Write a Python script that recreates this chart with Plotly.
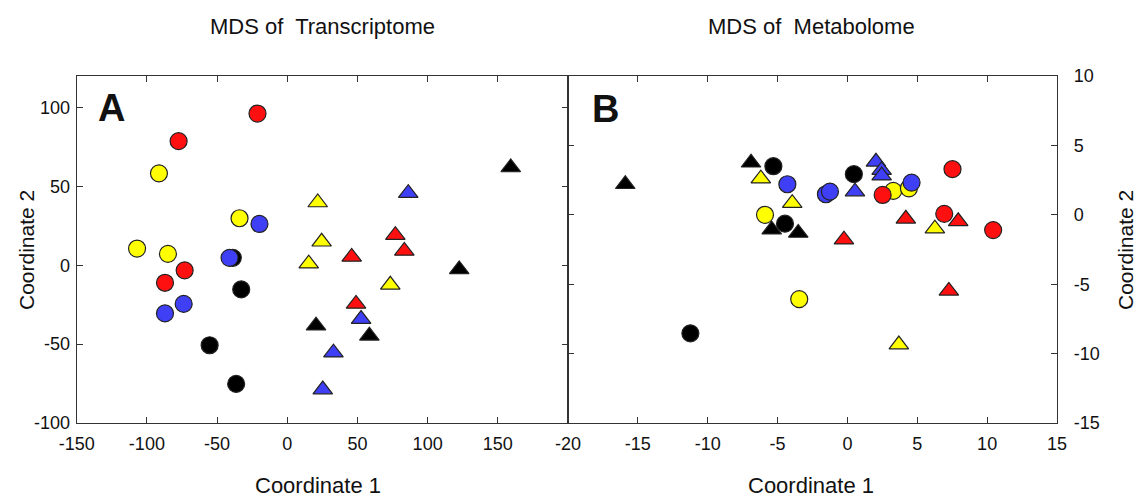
import plotly.graph_objects as go

# ---------------- Panel A: MDS of Transcriptome ----------------
tr_red_circle_x = [-21.2, -77.4, -73.1, -87.1]
tr_red_circle_y = [96.2, 78.7, -3.2, -11.1]
tr_yellow_circle_x = [-91.4, -34.0, -107.0, -85.0]
tr_yellow_circle_y = [58.3, 29.8, 10.6, 7.2]
tr_black_circle_x = [-38.8, -32.8, -55.3, -36.4]
tr_black_circle_y = [4.7, -15.3, -50.7, -75.2]
tr_blue_circle_x = [-19.8, -41.1, -73.8, -87.1]
tr_blue_circle_y = [26.2, 4.7, -24.5, -30.5]
tr_yellow_tri_x = [21.7, 24.5, 15.3, 73.4]
tr_yellow_tri_y = [39.8, 14.9, 1.0, -12.4]
tr_red_tri_x = [77.0, 83.4, 45.9, 49.0]
tr_red_tri_y = [19.1, 9.1, 5.3, -24.5]
tr_blue_tri_x = [86.2, 52.6, 32.9, 25.3]
tr_blue_tri_y = [45.7, -34.1, -55.4, -78.8]
tr_black_tri_x = [159.2, 122.5, 20.5, 58.5]
tr_black_tri_y = [62.0, -2.6, -38.3, -44.7]

# ---------------- Panel B: MDS of Metabolome ----------------
me_black_circle_x = [-5.3, -4.47, 0.46, -11.24]
me_black_circle_y = [3.5, -0.64, 2.93, -8.54]
me_yellow_circle_x = [-5.9, 3.28, 4.4, -3.45]
me_yellow_circle_y = [0.0, 1.72, 1.91, -6.08]
me_blue_circle_x = [-4.3, -1.54, -1.25, 4.59]
me_blue_circle_y = [2.2, 1.48, 1.67, 2.32]
me_red_circle_x = [2.52, 7.52, 6.93, 10.43]
me_red_circle_y = [1.43, 3.29, 0.07, -1.1]
me_black_tri_x = [-15.9, -6.9, -5.42, -3.52]
me_black_tri_y = [2.2, 3.75, -1.07, -1.31]
me_yellow_tri_x = [-6.2, -3.95, 6.26, 3.68]
me_yellow_tri_y = [2.6, 0.84, -1.0, -9.35]
me_blue_tri_x = [0.54, 2.04, 2.45, 2.45]
me_blue_tri_y = [1.67, 3.82, 3.22, 2.82]
me_red_tri_x = [4.18, 7.93, -0.25, 7.26]
me_red_tri_y = [-0.29, -0.47, -1.79, -5.48]

# tick labels
a_xticks = [-150, -100, -50, 0, 50, 100, 150]
a_yticks = [-100, -50, 0, 50, 100]
b_xticks = [-20, -15, -10, -5, 0, 5, 10, 15]
b_yticks = [-15, -10, -5, 0, 5, 10]

RED = "#FF1010"
YELLOW = "#FFFF00"
BLUE = "#3F3FF5"
BLACK = "#000000"

FONT = "Liberation Sans, Arial, sans-serif"

fig = go.Figure()

def add(x, y, color, symbol, xa, ya):
    fig.add_trace(go.Scatter(
        x=x, y=y, mode="markers", xaxis=xa, yaxis=ya, showlegend=False,
        marker=dict(symbol=symbol, size=17, color=color,
                    line=dict(color="#222222", width=1.2)),
    ))

groups_a = [
    (tr_yellow_circle_x, tr_yellow_circle_y, YELLOW, "circle"),
    (tr_black_circle_x, tr_black_circle_y, BLACK, "circle"),
    (tr_blue_circle_x, tr_blue_circle_y, BLUE, "circle"),
    (tr_red_circle_x, tr_red_circle_y, RED, "circle"),
    (tr_yellow_tri_x, tr_yellow_tri_y, YELLOW, "triangle-up"),
    (tr_red_tri_x, tr_red_tri_y, RED, "triangle-up"),
    (tr_blue_tri_x, tr_blue_tri_y, BLUE, "triangle-up"),
    (tr_black_tri_x, tr_black_tri_y, BLACK, "triangle-up"),
]
groups_b = [
    (me_black_circle_x, me_black_circle_y, BLACK, "circle"),
    (me_yellow_circle_x, me_yellow_circle_y, YELLOW, "circle"),
    (me_blue_circle_x, me_blue_circle_y, BLUE, "circle"),
    (me_red_circle_x, me_red_circle_y, RED, "circle"),
    (me_black_tri_x, me_black_tri_y, BLACK, "triangle-up"),
    (me_yellow_tri_x, me_yellow_tri_y, YELLOW, "triangle-up"),
    (me_blue_tri_x, me_blue_tri_y, BLUE, "triangle-up"),
    (me_red_tri_x, me_red_tri_y, RED, "triangle-up"),
]
for g in groups_a:
    add(*g, "x", "y")
for g in groups_b:
    add(*g, "x2", "y2")

W, H = 1144, 499
left_a, right_a, right_b = 76.7, 568.0, 1057.0
top, bottom = 76.0, 423.0

axis_common = dict(
    showline=True, mirror="ticks", linecolor="#333333", linewidth=1.3,
    ticks="inside", ticklen=6, tickwidth=1.2, tickcolor="#333333",
    showgrid=False, zeroline=False, automargin=False,
    tickfont=dict(family=FONT, size=18, color="#111111"),
)

def labels(vals):
    return [str(v) for v in vals]

fig.update_layout(
    width=W, height=H,
    margin=dict(l=0, r=0, t=0, b=0),
    paper_bgcolor="white", plot_bgcolor="white",
    xaxis=dict(domain=[left_a / W, right_a / W], range=[-150, 200],
               tickmode="array", tickvals=a_xticks, ticktext=labels(a_xticks),
               anchor="y", ticklabelstandoff=4, **axis_common),
    yaxis=dict(domain=[1 - bottom / H, 1 - top / H], range=[-100, 120],
               tickmode="array", tickvals=a_yticks, ticktext=labels(a_yticks),
               anchor="x", ticklabelstandoff=2, **axis_common),
    xaxis2=dict(domain=[right_a / W, right_b / W], range=[-20, 15],
                tickmode="array", tickvals=b_xticks, ticktext=labels(b_xticks),
                anchor="y2", ticklabelstandoff=4, **axis_common),
    yaxis2=dict(domain=[1 - bottom / H, 1 - top / H], range=[-15, 10],
                tickmode="array", tickvals=b_yticks, ticktext=labels(b_yticks),
                anchor="x2", side="right", ticklabelstandoff=12, **axis_common),
)

def ann(text, x, y, size, angle=0, bold=False):
    fig.add_annotation(
        text=f"<b>{text}</b>" if bold else text,
        x=x / W, y=1 - y / H, xref="paper", yref="paper",
        showarrow=False, textangle=angle, xanchor="center", yanchor="middle",
        font=dict(family=FONT, size=size, color="#111111"),
    )

ann("MDS of\u00a0 Transcriptome", 322, 27, 22)
ann("MDS of\u00a0 Metabolome", 811, 27, 22)
ann("Coordinate 1", 318, 485, 22)
ann("Coordinate 1", 811, 485, 22)
ann("Coordinate 2", 27, 250, 21, angle=-90)
ann("Coordinate 2", 1126, 250, 21, angle=-90)
ann("A", 111, 108, 38, bold=True)
ann("B", 605, 109, 38, bold=True)

fig.write_html("out.html")
